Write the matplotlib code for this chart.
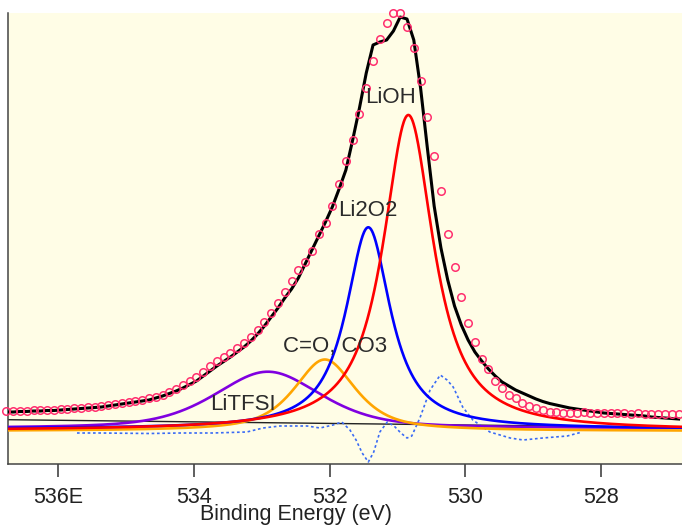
import numpy as np
import matplotlib
matplotlib.use("Agg")
import matplotlib.pyplot as plt
from matplotlib import font_manager

# ---------------------------------------------------------------- data
# O 1s spectrum sampled every 0.1 eV from 536.76 eV downwards
energy_start = 536.76
energy_step = 0.1
measured = [
    53, 53, 53.5, 53.5, 54, 54, 54.5, 54.5, 55, 55.5,
    56, 56.5, 57, 57.5, 58, 59, 60, 61, 62, 63,
    64.5, 66, 67.5, 69.5, 72, 75, 79, 83, 87, 92,
    98, 103, 107, 111, 116, 121, 127, 134, 142, 151,
    161, 172, 183, 194, 202, 213, 230, 241, 258, 280,
    303, 324, 350, 376, 403, 425, 441, 451, 451, 437,
    416, 383, 347, 308, 273, 230, 197, 167, 141, 122,
    105, 95, 83, 76, 69, 66, 61, 58, 56, 54,
    52, 52, 51.5, 51, 51.5, 52, 51.5, 51, 51.5, 51,
    51.5, 51, 50.5, 51, 50.5, 50, 50.5, 50, 50, 50,
]
envelope = [
    52, 52, 52.5, 52.5, 53, 53, 53.5, 53.5, 54, 54.5,
    55, 55.5, 56, 56.5, 57, 58, 59, 60, 61, 62,
    63, 64, 66, 68, 70.5, 73, 76, 79.5, 83, 88,
    93, 98, 102.5, 107, 112, 117, 123, 130, 138, 147,
    156, 166, 175, 186, 200, 214, 228, 242, 257, 275,
    294, 324, 356, 391, 419, 422, 424, 433, 447, 445,
    424, 376, 316, 258, 216, 184, 158, 139, 124, 112,
    103, 95, 88, 82, 78, 74, 71, 68, 65, 62.5,
    60.5, 59, 57.5, 56, 55, 54, 53, 52, 51, 50.5,
    50, 49.5, 49, 48.5, 48, 47, 46.5, 46, 45.5, 45,
]

# residual of the fit
residual_energy = [535.72, 535.38, 534.65, 534.20, 533.72, 533.22, 532.98, 532.73,
                   532.33, 532.14, 531.95, 531.82, 531.70, 531.61, 531.52, 531.43,
                   531.35, 531.26, 531.15, 531.05, 530.95, 530.86, 530.79, 530.67,
                   530.52, 530.37, 530.27, 530.18, 530.04, 529.89, 529.64, 529.34,
                   529.15, 528.86, 528.50, 528.28]
residual_value = [31, 31, 30.5, 31, 31, 32, 36, 38,
                  38, 36, 39, 42, 34, 24, 11, 2,
                  12, 32, 42, 38, 31, 26, 28, 46,
                  74, 89, 84, 77, 57, 44, 32, 26,
                  24, 26, 28, 32]

# background line (end points)
background_energy = [536.74, 526.81]
background_value = [44.3, 36.5]

# fitted components (pseudo-Voigt parameters)
comp_names = ["LiTFSI", "C=O, CO3", "Li2O2", "LiOH"]
comp_center = [532.91, 532.07, 531.43, 530.84]
comp_height = [56.8, 71.5, 201.7, 315.5]
comp_fwhm = [1.86, 1.075, 0.79, 0.898]
comp_lorentz = [0.5, 0.7, 0.95, 0.95]
comp_base = [35.5, 33.0, 35.0, 33.5]
comp_colors = ["#8000E0", "#FFA500", "#0000FF", "#FF0000"]

# label anchors (energy, intensity at text baseline)
label_energy = [533.28, 531.92, 531.44, 531.11]
label_value = [54, 112, 247.5, 361]

# axis ticks
tick_values = [536, 534, 532, 530, 528]
tick_labels = ["536E", "534", "532", "530", "528"]


def pseudo_voigt(x, center, height, fwhm, eta):
    hw = fwhm / 2.0
    lor = 1.0 / (1.0 + ((x - center) / hw) ** 2)
    gau = np.exp(-np.log(2.0) * ((x - center) / hw) ** 2)
    return height * (eta * lor + (1.0 - eta) * gau)


# ---------------------------------------------------------------- fonts
available = {f.name for f in font_manager.fontManager.ttflist}
tick_font = "Liberation Sans Narrow" if "Liberation Sans Narrow" in available else "Liberation Sans"
text_font = "Liberation Sans"

# ---------------------------------------------------------------- figure
W, H = 682, 527
fig = plt.figure(figsize=(W / 100, H / 100), dpi=100)
fig.patch.set_facecolor("white")
ax = fig.add_axes([8 / W, 63 / H, (W - 8) / W, 451 / H])
ax.set_facecolor("#FFFDE6")

energy = energy_start - energy_step * np.arange(len(measured))
fine = np.linspace(536.9, 526.6, 1500)

ax.plot(background_energy, background_value, color="#222222", lw=1.0, zorder=2)
ax.plot(residual_energy, residual_value, color="#3A6BF5", lw=1.2,
        ls=(0, (1.6, 1.6)), zorder=2.5)

for c, h, w, e, b, col in zip(comp_center, comp_height, comp_fwhm,
                               comp_lorentz, comp_base, comp_colors):
    ax.plot(fine, b + pseudo_voigt(fine, c, h, w, e), color=col, lw=1.9, zorder=3)

ax.plot(energy, envelope, color="black", lw=2.2, zorder=4)
pts, = ax.plot(energy, measured, ls="none", marker="o", ms=5.4, mfc="none",
               mec="#FF2F6E", mew=1.1, zorder=5)
pts.set_clip_on(False)

for name, ex, ey in zip(comp_names, label_energy, label_value):
    ax.text(ex, ey, name, ha="center", va="baseline", fontsize=16,
            family=text_font, color="#2A2A2A", zorder=6)

ax.set_xlim(536.736, 526.81)
ax.set_ylim(0, 451)
ax.set_yticks([])
ax.set_xticks(tick_values)
ax.set_xticklabels(tick_labels, family=tick_font, fontsize=15.5, color="#222222")
ax.tick_params(axis="x", direction="out", length=9.4, width=1.1, color="#333333", pad=7)

for side in ("top", "right"):
    ax.spines[side].set_visible(False)
for side in ("left", "bottom"):
    ax.spines[side].set_color("#444444")
    ax.spines[side].set_linewidth(1.1)

fig.text(295.5 / W, (H - 520) / H, "Binding Energy (eV)", ha="center", va="baseline",
         family=tick_font, fontsize=15.5, color="#222222")

fig.savefig("out.png", dpi=100)
